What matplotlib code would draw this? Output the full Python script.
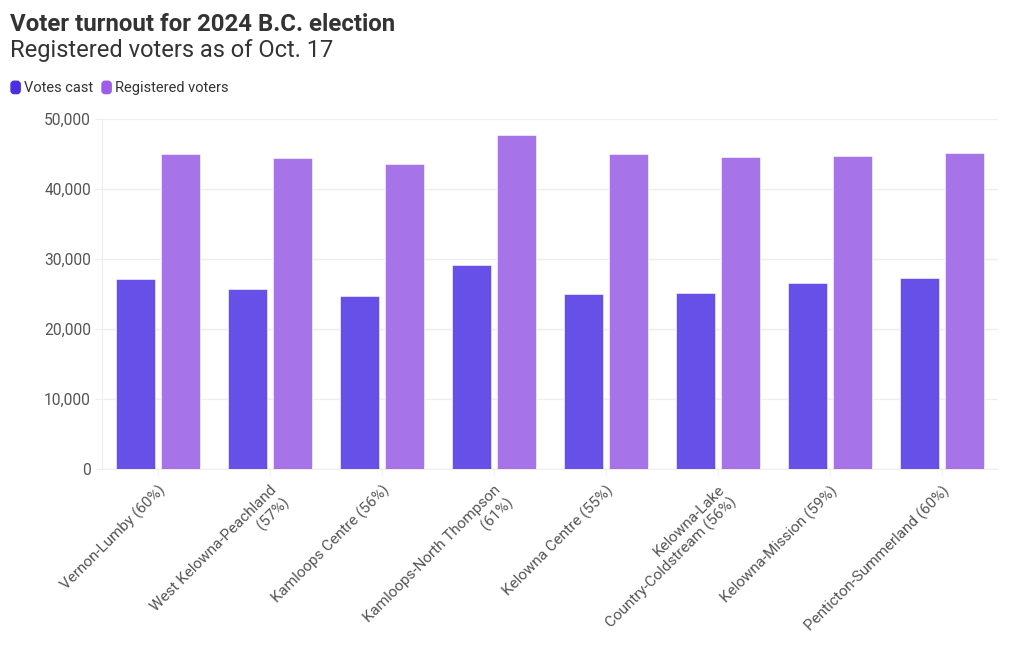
import matplotlib.pyplot as plt
import matplotlib.ticker as mticker
from matplotlib.patches import FancyBboxPatch
import numpy as np

plt.rcParams['font.family'] = ['Roboto', 'DejaVu Sans']

ridings = ["Vernon-Lumby (60%)", "West Kelowna-Peachland\n(57%)", "Kamloops Centre (56%)",
           "Kamloops-North Thompson\n(61%)", "Kelowna Centre (55%)",
           "Kelowna-Lake\nCountry-Coldstream (56%)", "Kelowna-Mission (59%)",
           "Penticton-Summerland (60%)"]
votes_cast = [27100, 25760, 24710, 29190, 24950, 25100, 26570, 27330]
registered = [45000, 44480, 43570, 47710, 44950, 44620, 44760, 45140]

c_votes = "#6650e8"
c_reg = "#a673e8"
txt = "#333333"
tick_txt = "#555555"

fig = plt.figure(figsize=(10.2, 6.5), dpi=100)
ax = fig.add_axes([0.1, 0.2785, 0.878, 0.5385])

x = np.arange(len(ridings))
w = 0.348
ax.bar(x - 0.201, votes_cast, w, color=c_votes, edgecolor="white", linewidth=0.4, zorder=3)
ax.bar(x + 0.201, registered, w, color=c_reg, edgecolor="white", linewidth=0.4, zorder=3)

ax.set_xlim(-0.5, len(ridings) - 0.5)
ax.set_ylim(0, 50000)
ax.set_yticks([0, 10000, 20000, 30000, 40000, 50000])
ax.yaxis.set_major_formatter(mticker.FuncFormatter(lambda v, p: f"{int(v):,}"))
ax.grid(axis="y", color="#eeeeee", linewidth=1, zorder=0)
ax.set_xticks(x)
ax.set_xticklabels(ridings, rotation=45, ha="right", rotation_mode="anchor",
                   multialignment="right")
ax.tick_params(axis="y", length=5, color="#eeeeee", labelsize=11.2, labelcolor=tick_txt, pad=3)
ax.tick_params(axis="x", length=4, color="#eeeeee", labelsize=11, labelcolor=tick_txt, pad=6)
for s in ["top", "right"]:
    ax.spines[s].set_visible(False)
ax.spines["left"].set_color("#eeeeee")
ax.spines["bottom"].set_color("#eeeeee")

fig.text(0.0098, 0.963, "Voter turnout for 2024 B.C. election", fontsize=17.3, fontweight="bold",
         color=txt, va="center")
fig.text(0.0098, 0.922, "Registered voters as of Oct. 17", fontsize=17, color=txt, va="center")

# legend
leg_items = [("Votes cast", "#4a30e0", 0.0108), ("Registered voters", "#9d5fe6", 0.1)]
for label, col, lx in leg_items:
    fig.patches.append(FancyBboxPatch((lx, 0.856), 0.009, 0.019, boxstyle="round,pad=0,rounding_size=0.003",
                                      transform=fig.transFigure, color=col, mutation_aspect=1.6))
    fig.text(lx + 0.013, 0.865, label, fontsize=10.5, color=txt, va="center")

fig.savefig("out.png", dpi=100)
